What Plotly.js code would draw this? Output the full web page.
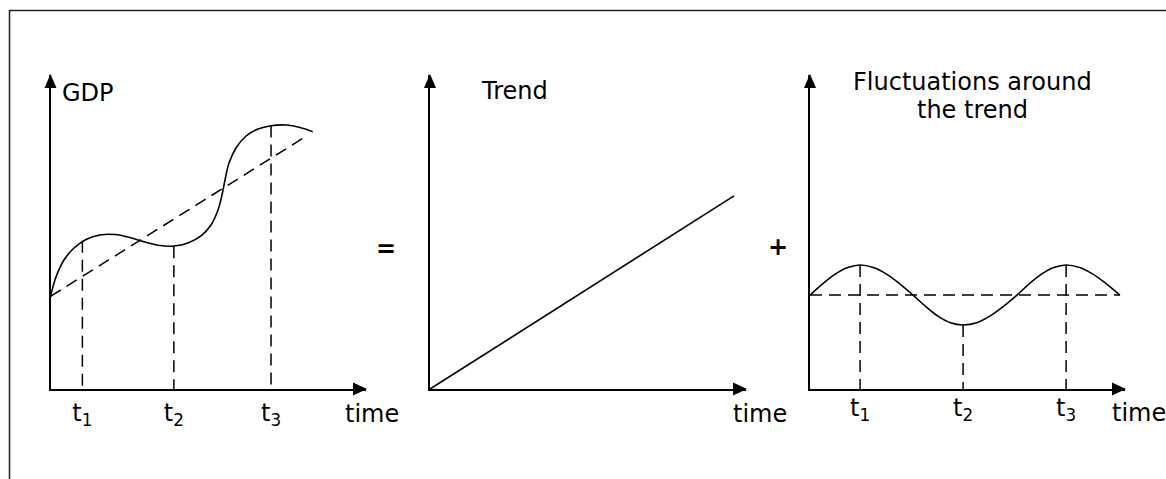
<!DOCTYPE html>
<html><head><meta charset="utf-8">
<script src="https://cdn.plot.ly/plotly-3.0.1.min.js"></script>
<style>html,body{margin:0;padding:0;background:#fff;}#chart{width:1166px;height:479px;}</style>
</head><body><div id="chart"></div>
<script>
// ---------- Panel 1: GDP = trend + fluctuations ----------
const gdpX = [0.000, 0.174, 0.428, 0.745, 1.125, 1.569, 2.044, 2.520, 2.995, 3.471, 3.914, 4.358, 4.770, 5.087, 5.309, 5.436, 5.531, 5.658, 5.880, 6.197, 6.577, 6.989, 7.464, 7.908, 8.311];
const gdpY = [2.946, 3.567, 4.108, 4.490, 4.761, 4.904, 4.920, 4.825, 4.682, 4.570, 4.554, 4.650, 4.873, 5.223, 5.701, 6.178, 6.656, 7.197, 7.675, 8.057, 8.280, 8.385, 8.408, 8.328, 8.194];
const gdpTrendX = [0, 8.07];
const gdpTrendY = [2.95, 8.03];
const gdpTPos = [1.01, 3.91, 6.99];
const gdpTTop = [4.72, 4.55, 8.39];

// ---------- Panel 2: Trend ----------
const trendX = [0, 9.62];
const trendY = [0, 6.15];

// ---------- Panel 3: Fluctuations around the trend ----------
const flucX = [0, 0.40, 0.80, 1.20, 1.59, 2.01, 2.43, 2.85, 3.27, 3.67, 4.06, 4.46, 4.86, 5.29, 5.71, 6.14, 6.57, 6.96, 7.35, 7.74, 8.13, 8.56, 8.98, 9.41, 9.84];
const flucY = [2.99, 3.35, 3.66, 3.87, 3.95, 3.87, 3.66, 3.35, 2.99, 2.63, 2.32, 2.11, 2.04, 2.11, 2.32, 2.63, 2.99, 3.35, 3.66, 3.87, 3.95, 3.87, 3.66, 3.35, 2.99];
const flucBaseX = [0, 9.84];
const flucBaseY = [2.99, 2.99];
const flucTPos = [1.59, 4.86, 8.13];
const flucTTop = [3.95, 2.04, 3.95];

const tickLabels = ['t<sub>1</sub>', 't<sub>2</sub>', 't<sub>3</sub>'];
const axisLabel = 'time';
const titles = {gdp: 'GDP', trend: 'Trend', fluc1: 'Fluctuations around', fluc2: 'the trend'};

// ---------- helpers ----------
const W = 1166, H = 479;
const FONT = 'DejaVu Sans, Verdana, sans-serif';
function px2fx(p) { return p / W; }
function px2fy(p) { return 1 - p / H; }
function dropLines(xs, tops) {
  const x = [], y = [];
  xs.forEach((v, i) => { x.push(v, v, null); y.push(tops[i], 0, null); });
  return {x, y};
}
const solid = {color: '#000', width: 1.6};
const dashed = {color: '#000', width: 1.5, dash: '12px,7px'};

const d1 = dropLines(gdpTPos, gdpTTop);
const d3 = dropLines(flucTPos, flucTTop);

const traces = [
  {x: gdpX, y: gdpY, mode: 'lines', line: Object.assign({shape: 'spline', smoothing: 1}, solid), xaxis: 'x', yaxis: 'y'},
  {x: gdpTrendX, y: gdpTrendY, mode: 'lines', line: dashed, xaxis: 'x', yaxis: 'y'},
  {x: d1.x, y: d1.y, mode: 'lines', line: dashed, xaxis: 'x', yaxis: 'y', connectgaps: false},
  {x: trendX, y: trendY, mode: 'lines', line: solid, xaxis: 'x2', yaxis: 'y2'},
  {x: flucX, y: flucY, mode: 'lines', line: Object.assign({shape: 'spline', smoothing: 1}, solid), xaxis: 'x3', yaxis: 'y3'},
  {x: flucBaseX, y: flucBaseY, mode: 'lines', line: dashed, xaxis: 'x3', yaxis: 'y3'},
  {x: d3.x, y: d3.y, mode: 'lines', line: dashed, xaxis: 'x3', yaxis: 'y3', connectgaps: false}
].map(t => Object.assign({hoverinfo: 'skip', showlegend: false}, t));

const yDom = [px2fy(389), px2fy(75)];
function xAxis(dom, tickvals, standoff) {
  return {
    domain: dom, range: [0, 10], fixedrange: true,
    showline: true, linecolor: '#000', linewidth: 2,
    showgrid: false, zeroline: false, ticks: '',
    tickvals: tickvals || [], ticktext: tickvals ? tickLabels : [],
    showticklabels: !!tickvals,
    tickfont: {family: FONT, size: 24, color: '#000'},
    ticklabelstandoff: standoff || 0
  };
}
function yAxis(anchor) {
  return {
    domain: yDom, range: [0, 10], anchor: anchor, fixedrange: true,
    showline: true, linecolor: '#000', linewidth: 2,
    showgrid: false, zeroline: false, ticks: '', showticklabels: false
  };
}

const shapes = [
  {type: 'rect', xref: 'paper', yref: 'paper', x0: px2fx(9.5), x1: 1.05, y0: -0.05, y1: px2fy(10.5),
   line: {color: '#222', width: 1.5}, fillcolor: 'rgba(0,0,0,0)'}
];
[['x', 'y'], ['x2', 'y2'], ['x3', 'y3']].forEach(([xr, yr]) => {
  // arrowhead at top of the y axis
  shapes.push({type: 'path', xref: xr + ' domain', yref: yr + ' domain', xsizemode: 'pixel', ysizemode: 'pixel',
    xanchor: 0, yanchor: 1, path: 'M-6,-13L6,-13L0,1Z', fillcolor: '#000', line: {width: 0}});
  // arrowhead at the right end of the x axis
  shapes.push({type: 'path', xref: xr + ' domain', yref: yr + ' domain', xsizemode: 'pixel', ysizemode: 'pixel',
    xanchor: 1, yanchor: 0, path: 'M-13,-6.5L-13,6.5L1,0Z', fillcolor: '#000', line: {width: 0}});
});

const tf = {family: FONT, size: 24, color: '#000'};
const annotations = [
  {text: titles.gdp, xref: 'x', yref: 'y', x: 0, y: 10, xanchor: 'left', yanchor: 'middle', xshift: 9.5, yshift: -18.4},
  {text: axisLabel, xref: 'x', yref: 'y', x: 10, y: 0, xanchor: 'left', yanchor: 'middle', xshift: -23, yshift: -25.4},
  {text: titles.trend, xref: 'x2', yref: 'y2', x: 0, y: 10, xanchor: 'left', yanchor: 'middle', xshift: 49, yshift: -16},
  {text: axisLabel, xref: 'x2', yref: 'y2', x: 10, y: 0, xanchor: 'left', yanchor: 'middle', xshift: -15.5, yshift: -25.4},
  {text: titles.fluc1, xref: 'x3', yref: 'y3', x: 5.16, y: 10, xanchor: 'center', yanchor: 'middle', yshift: -6.7},
  {text: titles.fluc2, xref: 'x3', yref: 'y3', x: 5.16, y: 10, xanchor: 'center', yanchor: 'middle', yshift: -34.7},
  {text: axisLabel, xref: 'x3', yref: 'y3', x: 10, y: 0, xanchor: 'left', yanchor: 'middle', xshift: -14.8, yshift: -24.4},
  {text: '<b>=</b>', xref: 'paper', yref: 'paper', x: px2fx(386), y: px2fy(249), xanchor: 'center', yanchor: 'middle'},
  {text: '<b>+</b>', xref: 'paper', yref: 'paper', x: px2fx(778), y: px2fy(247.3), xanchor: 'center', yanchor: 'middle'}
].map(a => Object.assign({showarrow: false, font: tf}, a));

const layout = {
  width: W, height: H, margin: {l: 0, r: 0, t: 0, b: 0, pad: 0},
  paper_bgcolor: '#fff', plot_bgcolor: '#fff', showlegend: false,
  font: {family: FONT, color: '#000'},
  xaxis: xAxis([px2fx(50.5), px2fx(366)], gdpTPos, 1),
  yaxis: yAxis('x'),
  xaxis2: xAxis([px2fx(430), px2fx(746)], null),
  yaxis2: yAxis('x2'),
  xaxis3: xAxis([px2fx(810), px2fx(1125)], flucTPos, -4),
  yaxis3: yAxis('x3'),
  shapes: shapes, annotations: annotations
};
layout.xaxis.anchor = 'y';
layout.xaxis2.anchor = 'y2';
layout.xaxis3.anchor = 'y3';

Plotly.newPlot('chart', traces, layout, {staticPlot: true, displayModeBar: false});
</script>
</body></html>
